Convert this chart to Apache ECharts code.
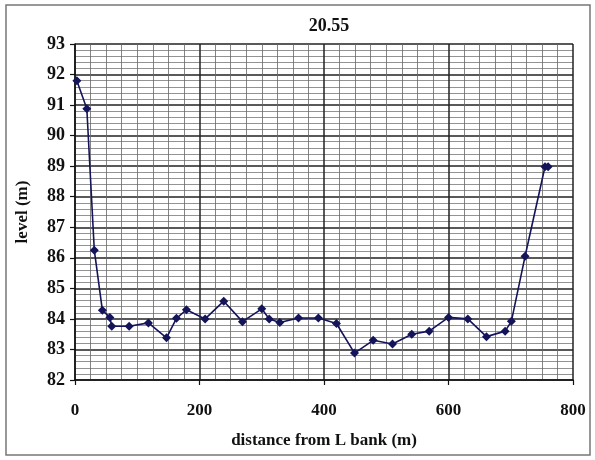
<!DOCTYPE html>
<html>
<head>
<meta charset="utf-8">
<script src="https://cdn.jsdelivr.net/npm/echarts@6/dist/echarts.min.js"></script>
<style>html,body{margin:0;padding:0;background:#fff}#c{width:595px;height:460px}</style>
</head>
<body>
<div id="c"></div>
<script>
var distance = [3, 19, 31, 44, 56, 59, 87, 118, 147, 163, 179, 209, 239, 269, 300, 312, 329, 359, 391, 420, 449, 479, 510, 541, 569, 600, 631, 661, 691, 701, 723, 755, 760];
var level = [91.8, 90.88, 86.25, 84.28, 84.05, 83.76, 83.76, 83.87, 83.38, 84.02, 84.3, 84.0, 84.58, 83.91, 84.33, 84.0, 83.88, 84.03, 84.03, 83.85, 82.88, 83.3, 83.18, 83.5, 83.6, 84.05, 84.0, 83.42, 83.6, 83.92, 86.05, 88.98, 88.98];
var titleText = "20.55";
var xName = "distance from L bank (m)";
var yName = "level (m)";

var points = distance.map(function (d, i) { return [d, level[i]]; });
var serif = "'Liberation Serif', 'DejaVu Serif', serif";
var chart = echarts.init(document.getElementById('c'), null, {renderer: 'canvas'});
chart.setOption({
  animation: false,
  backgroundColor: '#fff',
  title: {text: titleText, left: 324, textAlign: 'center', top: 12, textStyle: {fontFamily: serif, fontWeight: 'bold', fontSize: 18, color: '#111'}},
  graphic: [{type: 'rect', shape: {x: 6, y: 5, width: 584, height: 450}, style: {fill: 'none', stroke: '#777', lineWidth: 1.5}, silent: true}],
  grid: {left: 75, right: 22, top: 44, bottom: 80},
  xAxis: {
    type: 'value', min: 0, max: 800, interval: 200,
    name: xName, nameLocation: 'middle', nameGap: 52,
    nameTextStyle: {fontFamily: serif, fontWeight: 'bold', fontSize: 17, color: '#111'},
    axisLine: {show: true, lineStyle: {color: '#111', width: 1.5}},
    axisTick: {show: true, inside: false, length: 5, lineStyle: {color: '#111', width: 1.2}},
    axisLabel: {margin: 22, fontFamily: serif, fontWeight: 'bold', fontSize: 17, color: '#111'},
    splitLine: {show: true, lineStyle: {color: '#222', width: 1.5}},
    minorTick: {show: false, splitNumber: 8},
    minorSplitLine: {show: true, lineStyle: {color: '#666', width: 0.8}}
  },
  yAxis: {
    type: 'value', min: 82, max: 93, interval: 1,
    name: yName, nameLocation: 'middle', nameGap: 44, nameRotate: 90,
    nameTextStyle: {fontFamily: serif, fontWeight: 'bold', fontSize: 17, color: '#111'},
    axisLine: {show: true, lineStyle: {color: '#111', width: 1.5}},
    axisTick: {show: true, inside: false, length: 5, lineStyle: {color: '#111', width: 1.2}},
    axisLabel: {margin: 10, fontFamily: serif, fontWeight: 'bold', fontSize: 18, color: '#111'},
    splitLine: {show: true, lineStyle: {color: '#222', width: 1.5}},
    minorTick: {show: false, splitNumber: 5},
    minorSplitLine: {show: true, lineStyle: {color: '#777', width: 0.8}}
  },
  series: [{
    type: 'line', data: points,
    symbol: 'diamond', symbolSize: 9,
    lineStyle: {color: '#14145a', width: 1.6},
    itemStyle: {color: '#14145a'}
  }]
});
</script>
</body>
</html>
